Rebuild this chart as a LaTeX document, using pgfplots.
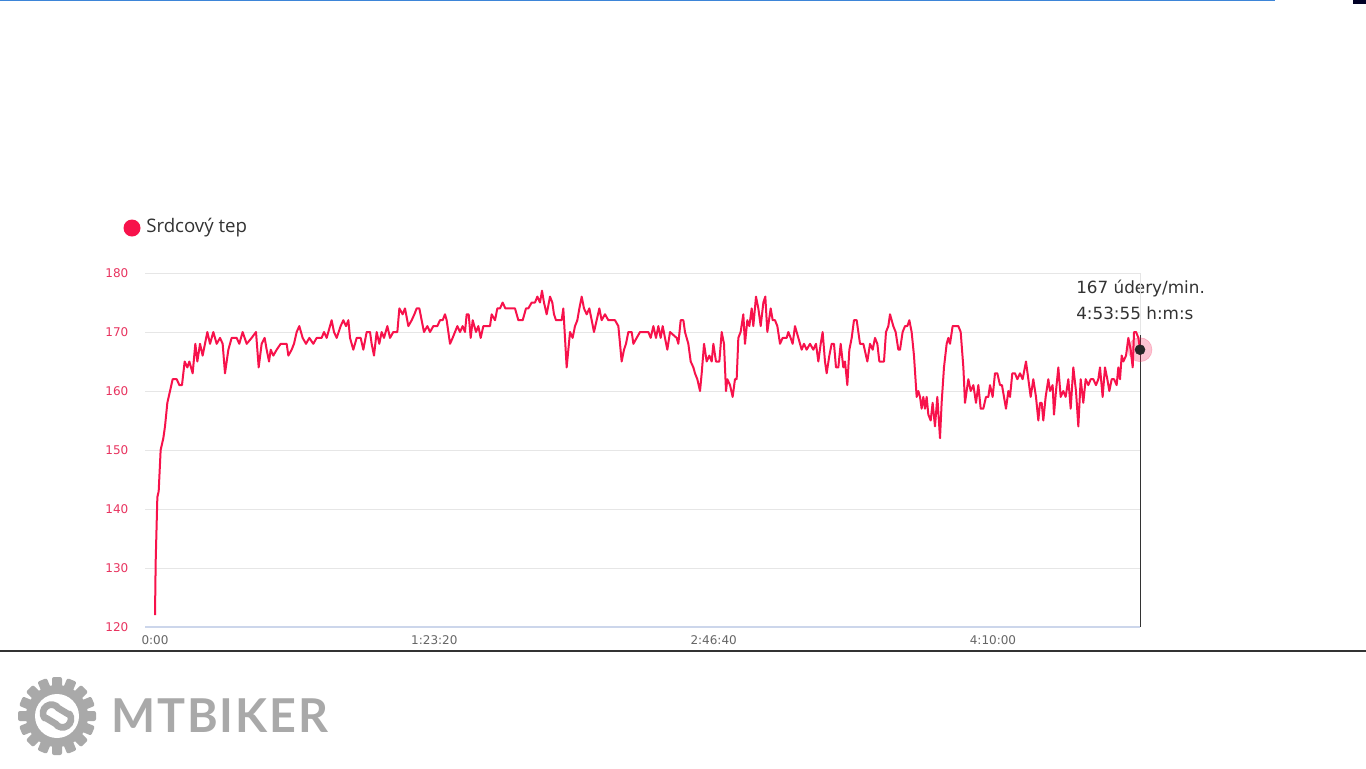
\documentclass[border=0pt]{standalone}
\usepackage{pgfplots}
\pgfplotsset{compat=1.18}
\usepackage{pgfplotstable}
\usepackage{fontspec}
\setmainfont{DejaVu Sans}
\newfontfamily\opensans{Open Sans}
\newfontfamily\logofont{Lato}[LetterSpace=4]

\definecolor{hrred}{HTML}{F7124B}
\definecolor{tickred}{HTML}{E8335F}
\definecolor{gridgrey}{HTML}{E6E6E6}
\definecolor{axisblue}{HTML}{CCD6EB}
\definecolor{labelgrey}{HTML}{666666}
\definecolor{topblue}{HTML}{3D85D8}
\definecolor{logogrey}{HTML}{A9A9A9}

% heart rate, time in seconds
\pgfplotstableread{
t bpm
0 122
12 131
42 142
66 143
101 150
149 152
179 154
221 158
269 160
316 162
388 162
436 161
483 161
531 165
579 164
615 165
674 163
722 168
758 165
806 168
853 166
895 168
937 170
985 168
1044 170
1104 168
1164 169
1211 168
1253 163
1313 167
1372 169
1462 169
1509 168
1569 170
1641 168
1730 169
1808 170
1856 164
1909 168
1963 169
1999 167
2041 165
2071 167
2118 166
2178 167
2250 168
2357 168
2387 166
2446 167
2488 168
2536 170
2583 171
2643 169
2703 168
2763 169
2834 168
2894 169
2983 169
3025 170
3073 169
3162 172
3204 170
3252 169
3323 171
3371 172
3419 171
3461 172
3491 169
3550 167
3610 169
3682 169
3729 167
3789 170
3849 170
3878 168
3920 166
3968 170
4015 168
4057 170
4099 169
4159 171
4207 169
4266 170
4338 170
4374 174
4433 173
4475 174
4535 171
4595 172
4643 173
4684 174
4732 174
4773 172
4815 170
4875 171
4923 170
4982 171
5054 171
5102 172
5149 172
5191 173
5221 172
5281 168
5328 169
5370 170
5412 171
5460 170
5507 171
5549 170
5579 173
5615 173
5651 169
5687 172
5746 170
5788 171
5830 169
5877 171
5997 171
6026 173
6086 172
6128 174
6176 174
6223 175
6271 174
6355 174
6385 174
6444 174
6504 172
6582 172
6641 174
6683 174
6743 175
6802 175
6844 176
6892 175
6927 177
6963 175
7011 173
7071 176
7112 175
7142 173
7178 172
7279 172
7309 174
7339 169
7369 164
7399 167
7429 170
7476 169
7518 171
7560 172
7596 174
7638 176
7679 174
7727 173
7775 174
7817 172
7858 170
7906 172
7954 174
7995 172
8055 173
8115 172
8234 172
8294 171
8324 168
8353 165
8395 167
8431 168
8473 170
8533 170
8563 168
8622 169
8682 170
8831 170
8873 169
8921 171
8968 169
9010 171
9052 169
9088 171
9129 169
9171 167
9219 170
9338 169
9368 168
9410 172
9458 172
9487 170
9547 168
9589 165
9637 164
9666 163
9708 162
9756 160
9786 163
9828 168
9875 165
9923 166
9965 165
9995 168
10042 165
10102 165
10144 170
10185 168
10221 160
10245 162
10293 161
10340 159
10382 162
10412 162
10442 169
10483 170
10531 173
10561 168
10603 172
10639 171
10681 174
10710 171
10758 176
10800 174
10842 171
10890 175
10925 176
10961 170
11021 174
11057 172
11098 172
11140 171
11188 168
11235 169
11307 169
11337 170
11378 169
11414 168
11456 171
11516 169
11576 167
11617 168
11665 167
11725 168
11784 167
11832 168
11874 165
11916 168
11951 170
11993 165
12023 163
12071 166
12113 168
12154 168
12190 164
12232 164
12274 168
12321 164
12351 165
12393 161
12429 167
12471 169
12512 172
12560 172
12620 168
12680 168
12751 165
12799 168
12847 167
12888 169
12930 168
12966 165
13049 165
13085 170
13127 171
13157 173
13216 171
13258 170
13306 167
13336 167
13383 170
13425 171
13467 171
13503 172
13544 170
13586 166
13634 159
13664 160
13694 159
13723 157
13753 159
13783 157
13813 159
13843 156
13885 155
13920 158
13962 154
14004 159
14052 152
14081 158
14123 164
14171 168
14201 169
14231 168
14278 171
14380 171
14422 170
14470 164
14499 158
14559 162
14601 160
14649 161
14696 158
14738 161
14780 157
14827 157
14875 159
14917 159
14947 161
14994 159
15036 163
15078 163
15126 161
15161 161
15197 159
15233 157
15275 160
15305 159
15346 163
15394 163
15436 162
15484 163
15531 162
15591 165
15633 162
15675 159
15722 162
15770 159
15812 155
15842 158
15872 158
15901 155
15943 159
15991 162
16021 160
16068 161
16092 156
16128 160
16170 164
16212 159
16259 160
16301 159
16349 162
16391 157
16438 164
16486 160
16528 154
16570 162
16617 158
16659 162
16707 161
16749 162
16796 162
16844 161
16886 162
16916 164
16963 159
17005 164
17047 162
17083 160
17125 162
17167 162
17214 161
17244 164
17274 162
17304 166
17334 165
17382 166
17423 169
17465 167
17501 164
17525 170
17561 170
17603 169
17632 167
}\hrdata

\begin{document}
\begin{tikzpicture}
% canvas in screen pixels, 1px = 0.75pt
\begin{scope}[x=0.75pt,y=-0.75pt]
\fill[white] (0,0) rectangle (1366,768);
\path[use as bounding box] (0,0) rectangle (1366,768);
\draw[topblue, line width=1pt] (0,0.7) -- (1275,0.7);
\fill[black!85!blue] (1353,0) rectangle (1366,4);
\draw[black!80, line width=1.5pt] (0,651) -- (1366,651);

% legend
\fill[hrred] (132,228) circle (8.5);
\node[anchor=west, inner sep=0, text=black!80, font=\opensans\fontsize{14pt}{16pt}\selectfont] at (146,228) {Srdcový tep};

% tooltip text
\node[anchor=base west, inner sep=0, text=black!80, font=\fontsize{12.6pt}{14pt}\selectfont] at (1076,293) {167 údery/min.};
\node[anchor=base west, inner sep=0, text=black!80, font=\fontsize{12.6pt}{14pt}\selectfont] at (1076,319) {4:53:55 h:m:s};

% logo
\begin{scope}[logogrey]
\foreach \a in {0,22.5,...,340}
  \fill[rotate around={\a:(57,716)}, rounded corners=1.5pt] (52,677) rectangle (62,692);
\fill (57,716) circle (31);
\fill[white] (57,716) circle (22);
\draw[line width=5pt, line cap=round] (44.5,718) arc[start angle=145, end angle=325, radius=8.5] -- (68,714);
\draw[line width=5pt, line cap=round] (69.5,714) arc[start angle=325, end angle=505, radius=8.5] -- (46,718);
\end{scope}
\node[anchor=base west, inner sep=0, text=logogrey, font=\logofont\bfseries\fontsize{35pt}{36pt}\selectfont] at (111,732) {MTBIKER};
\end{scope}

\begin{axis}[
  at={(108.75pt,-204.75pt)}, anchor=north west,
  scale only axis,
  width=746.25pt, height=265.5pt,
  xmin=-179, xmax=17632,
  ymin=120, ymax=180,
  clip=false,
  scaled x ticks=false,
  axis x line*=bottom, axis y line*=left,
  x axis line style={draw=axisblue, line width=1pt, -},
  y axis line style={draw=none},
  major tick style={draw=none},
  ymajorgrids, grid style={draw=gridgrey, line width=0.75pt},
  ytick={120,130,...,180},
  xtick={0,5000,10000,15000},
  xticklabels={0:00,1:23:20,2:46:40,4:10:00},
  /pgf/number format/assume math mode=true,
  yticklabel style={font=\fontsize{9pt}{10pt}\selectfont, text=tickred, xshift=-9pt},
  xticklabel style={font=\fontsize{9pt}{10pt}\selectfont, text=labelgrey, yshift=-3pt},
]
\addplot[black!10, line width=0.75pt, forget plot] coordinates {(17632,169.5) (17632,180)};
\addplot[black!80, line width=0.75pt, forget plot] coordinates {(17632,120) (17632,169.5)};
\addplot[hrred, line width=1.5pt, line join=round, mark=none] table[x=t, y=bpm] {\hrdata};
\addplot[only marks, mark=*, mark size=9pt, color=hrred, opacity=0.25] coordinates {(17632,167)};
\addplot[only marks, mark=*, mark size=3.75pt, color=black!85] coordinates {(17632,167)};
\end{axis}
\end{tikzpicture}
\end{document}
